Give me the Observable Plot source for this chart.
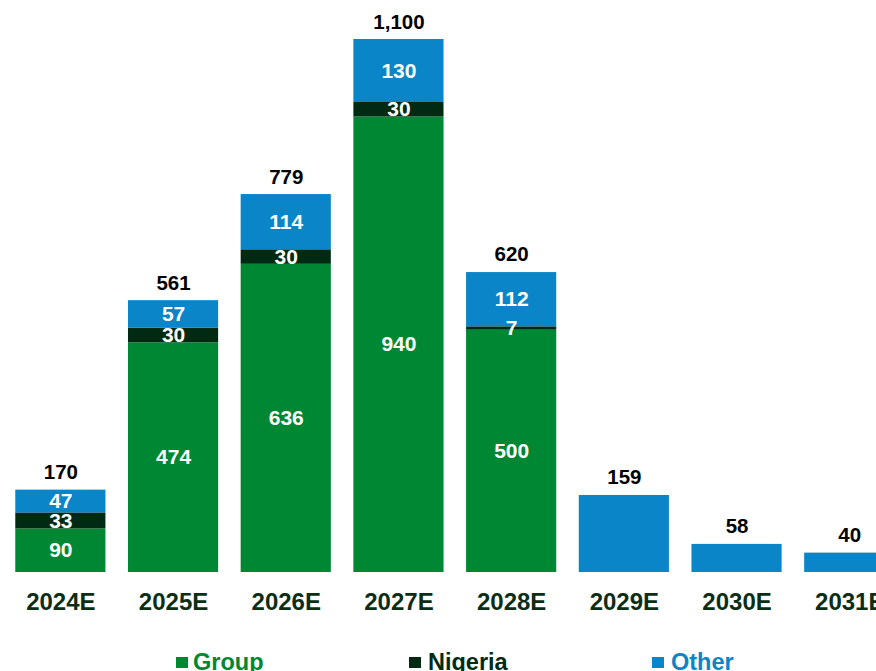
<!DOCTYPE html>
<html>
<head>
<meta charset="utf-8">
<script src="https://cdn.jsdelivr.net/npm/d3@7"></script>
<script src="https://cdn.jsdelivr.net/npm/@observablehq/plot@0.6"></script>
<style>
  html, body { margin: 0; padding: 0; background: #fff; overflow: hidden; }
  #wrap { position: relative; width: 876px; height: 671px; overflow: hidden; font-family: "Liberation Sans", Arial, sans-serif; }
  #chart svg { overflow: hidden; }
  .legend { position: absolute; top: 0; left: 0; width: 876px; height: 671px; pointer-events: none; }
  .lt { position: absolute; top: 650px; font-weight: bold; font-size: 23.5px; line-height: 24px; white-space: nowrap; }
  .sw { position: absolute; top: 657px; width: 12px; height: 11px; }
</style>
</head>
<body>
<div id="wrap">
  <div id="chart"></div>
  <div class="legend" id="legend"></div>
</div>
<script>
const years = ["2024E", "2025E", "2026E", "2027E", "2028E", "2029E", "2030E", "2031E"];
const group = [90, 474, 636, 940, 500, 0, 0, 0];
const nigeria = [33, 30, 30, 30, 7, 0, 0, 0];
const other = [47, 57, 114, 130, 112, 159, 58, 40];
const totals = [170, 561, 779, 1100, 620, 159, 58, 40];
const seriesNames = ["Group", "Nigeria", "Other"];
const seriesColors = ["#008733", "#002B12", "#0A85C8"];

const rows = [];
years.forEach((yr, i) => {
  const stacked = group[i] > 0;
  [group, nigeria, other].forEach((arr, s) => {
    if (arr[i] > 0) rows.push({year: yr, series: seriesNames[s], value: arr[i], labeled: stacked});
  });
});
const totalRows = years.map((yr, i) => ({year: yr, total: totals[i]}));

const chart = Plot.plot({
  width: 876,
  height: 625,
  marginTop: 0,
  marginBottom: 53,
  marginLeft: 0,
  marginRight: 0,
  style: {fontFamily: "'Liberation Sans', Arial, sans-serif", overflow: "hidden"},
  x: {domain: years, range: [4, 905.6], paddingInner: 0.2, paddingOuter: 0.1, round: false, label: null},
  y: {domain: [0, 1100], range: [572, 39], axis: null},
  color: {domain: seriesNames, range: seriesColors},
  marks: [
    Plot.barY(rows, Plot.stackY({x: "year", y: "value", fill: "series", order: seriesNames})),
    Plot.text(rows.filter(d => d.labeled), Plot.stackY({
      x: "year", y: "value", z: "series", order: seriesNames,
      text: d => String(d.value), fill: "white", fontSize: 21, fontWeight: "bold"
    })),
    Plot.text(totalRows, {
      x: "year", y: "total", text: d => d3.format(",")(d.total),
      lineAnchor: "bottom", dy: -11, fill: "black", fontSize: 20.5, fontWeight: "bold"
    }),
    Plot.axisX({
      tickSize: 0, tickPadding: 20, fontSize: 24, fontWeight: "bold",
      color: "#0B2E14", label: null
    })
  ]
});
document.getElementById("chart").appendChild(chart);

const swatchX = [176, 409, 652];
const textX = [193, 428, 671];
const legend = document.getElementById("legend");
seriesNames.forEach((name, i) => {
  const sw = document.createElement("div");
  sw.className = "sw";
  sw.style.left = swatchX[i] + "px";
  sw.style.background = seriesColors[i];
  legend.appendChild(sw);
  const t = document.createElement("div");
  t.className = "lt";
  t.style.left = textX[i] + "px";
  t.style.color = seriesColors[i];
  t.textContent = name;
  legend.appendChild(t);
});
</script>
</body>
</html>
